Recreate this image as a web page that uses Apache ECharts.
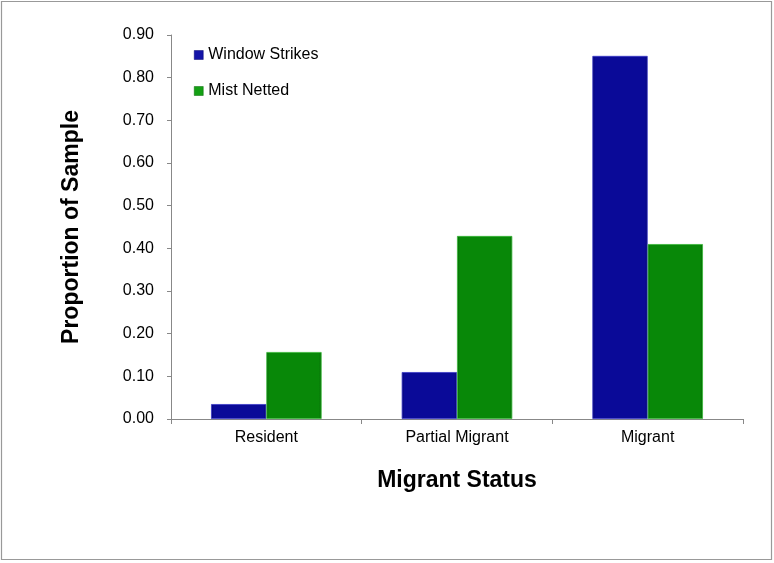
<!DOCTYPE html>
<html>
<head>
<meta charset="utf-8">
<script src="https://cdn.jsdelivr.net/npm/echarts@6/dist/echarts.min.js"></script>
<style>html,body{margin:0;padding:0;background:#fff}#c{width:774px;height:563px}</style>
</head>
<body>
<div id="c"></div>
<script>
var categories = ['Resident', 'Partial Migrant', 'Migrant'];
var windowStrikes = [0.035, 0.11, 0.851];
var mistNetted = [0.157, 0.429, 0.41];
var yTicks = {min: 0, max: 0.9, interval: 0.1};

function grad(dark, mid) {
  return new echarts.graphic.LinearGradient(0, 0, 1, 0, [
    {offset: 0, color: dark}, {offset: 0.05, color: mid}, {offset: 0.95, color: mid}, {offset: 1, color: dark}
  ]);
}
var font = 'Liberation Sans, Arial, sans-serif';
var chart = echarts.init(document.getElementById('c'));
chart.setOption({
  animation: false,
  graphic: [{type: 'rect', shape: {x: 1.5, y: 1.5, width: 770, height: 558}, style: {fill: 'none', stroke: '#999', lineWidth: 1.2}, z: -1}],
  grid: {left: 171, right: 31, top: 35, bottom: 144},
  legend: {
    orient: 'vertical', left: 189, top: 42, itemWidth: 9, itemHeight: 9, itemGap: 20, icon: 'rect',
    textStyle: {fontFamily: font, fontSize: 16, color: '#000', padding: [0, 0, 0, 0]},
    data: [{name: 'Window Strikes', itemStyle: {color: '#1414a8', borderColor: '#05056e', borderWidth: 0.5}},
           {name: 'Mist Netted', itemStyle: {color: '#14a014', borderColor: '#056605', borderWidth: 0.5}}]
  },
  xAxis: {
    type: 'category', data: categories,
    name: 'Migrant Status', nameLocation: 'middle', nameGap: 50,
    nameTextStyle: {fontFamily: font, fontSize: 23, fontWeight: 'bold', color: '#000'},
    axisLine: {lineStyle: {color: '#888'}},
    axisTick: {show: true, length: 5, lineStyle: {color: '#888'}},
    axisLabel: {fontFamily: font, fontSize: 16, color: '#000', margin: 11}
  },
  yAxis: {
    type: 'value', min: yTicks.min, max: yTicks.max, interval: yTicks.interval,
    name: 'Proportion of Sample', nameLocation: 'middle', nameGap: 88, nameRotate: 90,
    nameTextStyle: {fontFamily: font, fontSize: 23, fontWeight: 'bold', color: '#000'},
    axisLine: {show: true, lineStyle: {color: '#888'}},
    axisTick: {show: true, length: 4, lineStyle: {color: '#888'}},
    splitLine: {show: false},
    axisLabel: {fontFamily: font, fontSize: 16, color: '#000', margin: 17, formatter: function (v) { return v.toFixed(2); }}
  },
  series: [
    {name: 'Window Strikes', type: 'bar', data: windowStrikes, barGap: '0%', barCategoryGap: '42%',
     itemStyle: {color: grad('#05056e', '#0a0a98'), borderColor: '#3a3ac8', borderWidth: 0.8}},
    {name: 'Mist Netted', type: 'bar', data: mistNetted,
     itemStyle: {color: grad('#056605', '#088808'), borderColor: '#3ab83a', borderWidth: 0.8}}
  ]
});
</script>
</body>
</html>
